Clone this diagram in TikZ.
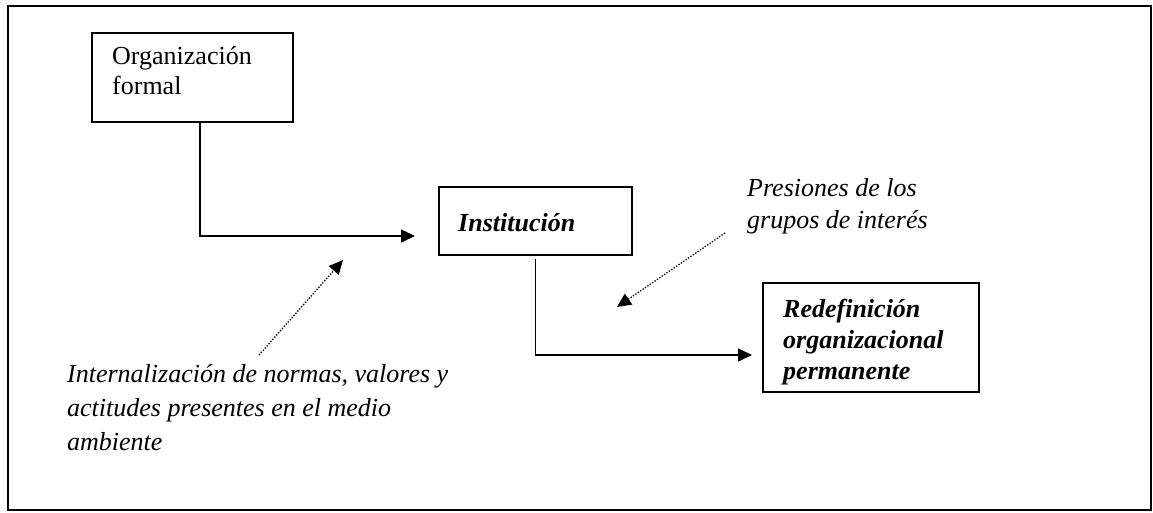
\documentclass[tikz,border=0pt]{standalone}
\usepackage{fontspec}
\setmainfont{Liberation Serif}
\usetikzlibrary{arrows.meta}
\newcommand{\stack}[1]{\begin{tabular}[t]{@{}l@{}}#1\end{tabular}}
\begin{document}
\begin{tikzpicture}[x=1pt,y=-1pt,
  box/.style={draw,line width=1.8pt},
  txt/.style={anchor=base west,inner sep=0pt},
  link/.style={line width=1.5pt,-{Triangle[length=14pt,width=13pt]}},
  hint/.style={line width=1.3pt,dash pattern=on 1.3pt off 1.6pt,-{Triangle[length=14pt,width=13pt]}}]
\useasboundingbox (0,0) rectangle (1153,512);
\fill[white] (0,0) rectangle (1153,512);
\draw[line width=1.8pt] (8,6) rectangle (1151,510);

% boxes
\node[box,minimum width=201pt,minimum height=89pt,inner sep=0pt] (org) at (192.5,77.5) {};
\node[box,minimum width=193pt,minimum height=68pt,inner sep=0pt] (inst) at (535.5,221) {};
\node[box,minimum width=216pt,minimum height=109pt,inner sep=0pt] (redef) at (871,337.5) {};

% box texts
\node[txt] (orgtxt) at (112,64) {\fontsize{26}{30}\selectfont\stack{Organización\\formal}};
\node[txt] (insttxt) at (458,231) {\fontsize{26}{31}\selectfont\bfseries\itshape Institución};
\node[txt] (redeftxt) at (783,317) {\fontsize{26}{31}\selectfont\bfseries\itshape\stack{Redefinición\\organizacional\\permanente}};

% free texts
\node[txt] (pres) at (747,196) {\fontsize{26}{32}\selectfont\itshape\stack{Presiones de los\\grupos de interés}};
\node[txt] (intern) at (67,382) {\fontsize{26}{34}\selectfont\itshape\stack{Internalización de normas, valores y\\actitudes presentes en el medio\\ambiente}};

% connector ends
\coordinate (a1) at (415,236);
\coordinate (a2) at (752,355);
\coordinate (d1s) at (259,355);
\coordinate (d1e) at (343,260);
\coordinate (d2s) at (725,233);
\coordinate (d2e) at (617,307);

% main flow
\draw[link] ([xshift=7.5pt]org.south) |- (a1);
\draw[link] ([yshift=-3pt]inst.south) |- (a2);

% influences
\draw[hint] (d1s) -- (d1e);
\draw[hint] (d2s) -- (d2e);
\end{tikzpicture}
\end{document}
